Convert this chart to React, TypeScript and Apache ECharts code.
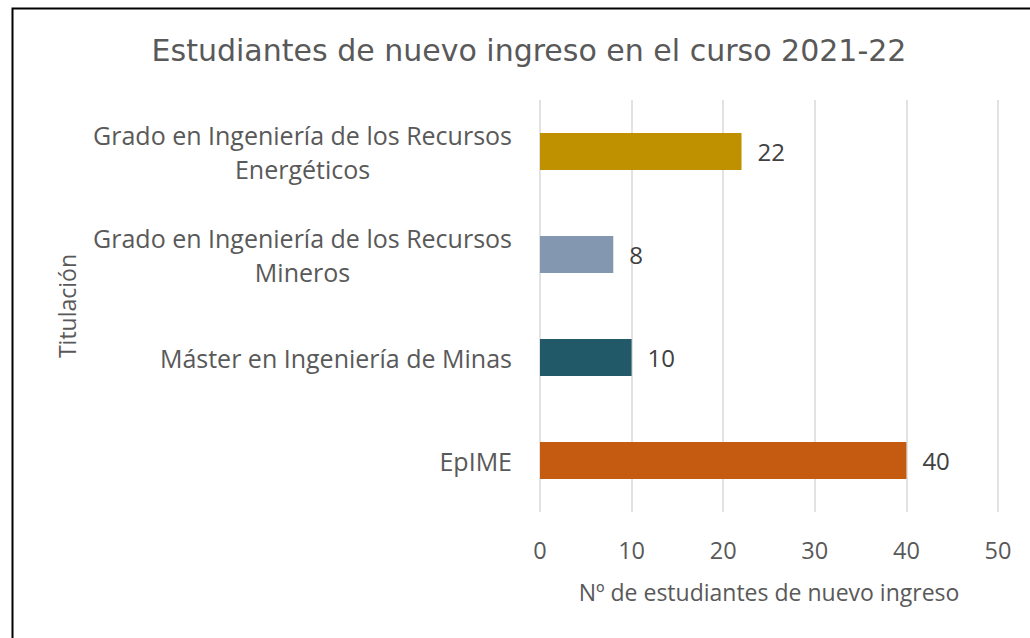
import React, { useEffect, useRef } from "react";
import * as echarts from "echarts";

const categories: string[][] = [
  ["EpIME"],
  ["Máster en Ingeniería de Minas"],
  ["Grado en Ingeniería de los Recursos", "Mineros"],
  ["Grado en Ingeniería de los Recursos", "Energéticos"],
];
const values: number[] = [40, 10, 8, 22];
const barColors: string[] = ["#C55A11", "#215968", "#8497B0", "#BF9000"];
const xTicks = { min: 0, max: 50, interval: 10 };

const titleText = "Estudiantes de nuevo ingreso en el curso 2021-22";
const xName = "Nº de estudiantes de nuevo ingreso";
const yName = "Titulación";

export default function App() {
  const ref = useRef<HTMLDivElement>(null);
  useEffect(() => {
    if (!ref.current) return;
    const chart = echarts.init(ref.current, undefined, { renderer: "svg" });
    const font = "'Open Sans', sans-serif";
    chart.setOption({
      animation: false,
      backgroundColor: "#ffffff",
      title: {
        text: titleText,
        left: 524,
        top: 30,
        textAlign: "center",
        textStyle: {
          fontFamily: "'DejaVu Sans', sans-serif",
          fontSize: 30,
          fontWeight: "normal",
          color: "#595959",
        },
      },
      graphic: [
        {
          type: "rect",
          shape: { x: 12.5, y: 8.5, width: 1040, height: 650 },
          style: { fill: "none", stroke: "#000000", lineWidth: 2 },
          silent: true,
        },
      ],
      grid: { left: 540, right: 32, top: 100, bottom: 126, containLabel: false },
      xAxis: {
        type: "value",
        min: xTicks.min,
        max: xTicks.max,
        interval: xTicks.interval,
        name: xName,
        nameLocation: "middle",
        nameGap: 68,
        nameTextStyle: { fontFamily: font, fontSize: 23, color: "#595959" },
        axisLine: { show: false },
        axisTick: { show: false },
        axisLabel: { margin: 26, fontFamily: font, fontSize: 23.5, color: "#595959" },
        splitLine: { lineStyle: { color: "#d9d9d9", width: 1.5 } },
      },
      yAxis: {
        type: "category",
        data: categories.map((c) => c.join("\n")),
        name: yName,
        nameLocation: "middle",
        nameGap: 462,
        nameRotate: 90,
        nameTextStyle: { fontFamily: font, fontSize: 23, color: "#595959" },
        axisLine: { show: false },
        axisTick: { show: false },
        splitLine: { show: false },
        axisLabel: {
          margin: 28,
          fontFamily: font,
          fontSize: 25,
          color: "#595959",
          lineHeight: 34,
          formatter: (v: string) =>
            v
              .split("\n")
              .map((l) => "{c|" + l + "}")
              .join("\n"),
          rich: {
            c: {
              align: "center",
              fontFamily: font,
              fontSize: 25,
              color: "#595959",
              lineHeight: 34,
            },
          },
        },
      },
      series: [
        {
          type: "bar",
          data: values.map((v, i) => ({ value: v, itemStyle: { color: barColors[i] } })),
          barCategoryGap: "64%",
          label: {
            show: true,
            position: "right",
            distance: 16,
            fontFamily: font,
            fontSize: 24,
            color: "#404040",
          },
        },
      ],
    });
    return () => chart.dispose();
  }, []);
  return (
    <div
      ref={ref}
      style={{ position: "fixed", left: 0, top: 0, width: 1030, height: 638 }}
    />
  );
}
